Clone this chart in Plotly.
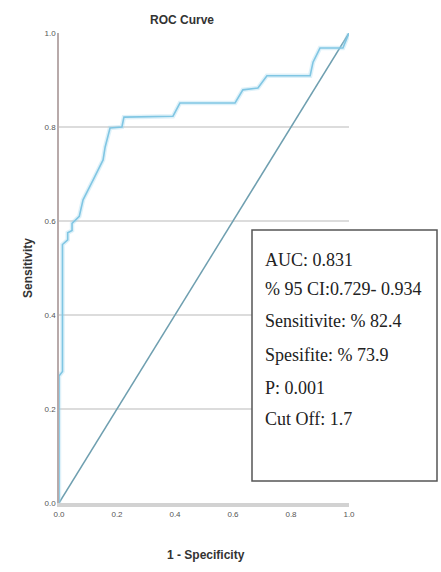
import plotly.graph_objects as go

# ROC curve coordinates (1 - specificity, sensitivity)
fpr = [0, 0, 0.012, 0.012, 0.03, 0.03, 0.045, 0.045, 0.07, 0.083, 0.12, 0.152, 0.159,
       0.176, 0.217, 0.224, 0.393, 0.417, 0.607, 0.634, 0.686, 0.717, 0.866, 0.876,
       0.9, 0.979, 1.0]
tpr = [0, 0.27, 0.28, 0.55, 0.56, 0.575, 0.58, 0.595, 0.61, 0.645, 0.69, 0.73, 0.757,
       0.798, 0.8, 0.821, 0.823, 0.851, 0.851, 0.879, 0.883, 0.909, 0.909, 0.938,
       0.968, 0.968, 1.0]

# Reference (chance) line
ref_x = [0, 1]
ref_y = [0, 1]

tick_vals = [0.0, 0.2, 0.4, 0.6, 0.8, 1.0]
tick_text = ["0.0", "0.2", "0.4", "0.6", "0.8", "1.0"]

stats_lines = [
    "AUC: 0.831",
    "% 95 CI:0.729- 0.934",
    "Sensitivite: % 82.4",
    "Spesifite: % 73.9",
    "P: 0.001",
    "Cut Off: 1.7",
]

W, H = 441, 572
L, R, T, B = 59, 92, 33, 69
plot_w = W - L - R
plot_h = H - T - B


def px_x(px):
    return (px - L) / plot_w


def px_y(py):
    return (H - B - py) / plot_h


fig = go.Figure()

fig.add_trace(go.Scatter(x=ref_x, y=ref_y, mode="lines",
                         line=dict(color="#6f9fb0", width=1.5),
                         hoverinfo="skip", showlegend=False))
# soft halo under the ROC line
fig.add_trace(go.Scatter(x=fpr, y=tpr, mode="lines",
                         line=dict(color="rgba(160,215,238,0.35)", width=4.5),
                         hoverinfo="skip", showlegend=False))
fig.add_trace(go.Scatter(x=fpr, y=tpr, mode="lines",
                         line=dict(color="#80c6e3", width=1.6),
                         showlegend=False))

# Statistics box
fig.add_shape(type="rect", xref="paper", yref="paper",
              x0=px_x(252), x1=px_x(437), y0=px_y(481), y1=px_y(230),
              fillcolor="white", line=dict(color="#555555", width=1.5),
              layer="above")

line_centres = [260, 289, 321, 355, 388, 419]
for txt, cy in zip(stats_lines, line_centres):
    fig.add_annotation(text=txt, xref="paper", yref="paper",
                       x=px_x(263), y=px_y(cy), xanchor="left", yanchor="middle",
                       showarrow=False,
                       font=dict(family="Liberation Serif", size=18, color="#222222"))

# Titles
fig.add_annotation(text="<b>ROC Curve</b>", xref="paper", yref="paper",
                   x=px_x(182), y=px_y(20), xanchor="center", yanchor="middle",
                   showarrow=False,
                   font=dict(family="Liberation Sans", size=12, color="#333333"))
fig.add_annotation(text="<b>1 - Specificity</b>", xref="paper", yref="paper",
                   x=px_x(206), y=px_y(555), xanchor="center", yanchor="middle",
                   showarrow=False,
                   font=dict(family="Liberation Sans", size=12, color="#333333"))
fig.add_annotation(text="<b>Sensitivity</b>", xref="paper", yref="paper",
                   x=px_x(28), y=0.5, xanchor="center", yanchor="middle",
                   textangle=-90, showarrow=False,
                   font=dict(family="Liberation Sans", size=12, color="#333333"))

fig.update_xaxes(range=[0, 1], tickvals=tick_vals, ticktext=tick_text,
                 showgrid=False, zeroline=False,
                 showline=True, linecolor="#d2d2d2", linewidth=4,
                 tickfont=dict(family="Liberation Sans", size=8, color="#555555"),
                 ticks="", fixedrange=True)
fig.update_yaxes(range=[0, 1], tickvals=tick_vals, ticktext=tick_text,
                 showgrid=True, gridcolor="#dcdcdc", gridwidth=2,
                 zeroline=False,
                 showline=True, linecolor="#b8aaaa", linewidth=1.5,
                 tickfont=dict(family="Liberation Sans", size=8, color="#555555"),
                 ticks="", fixedrange=True)

fig.update_layout(width=W, height=H,
                  margin=dict(l=L, r=R, t=T, b=B, pad=0),
                  plot_bgcolor="white", paper_bgcolor="white",
                  showlegend=False)

fig.write_html("out.html")
